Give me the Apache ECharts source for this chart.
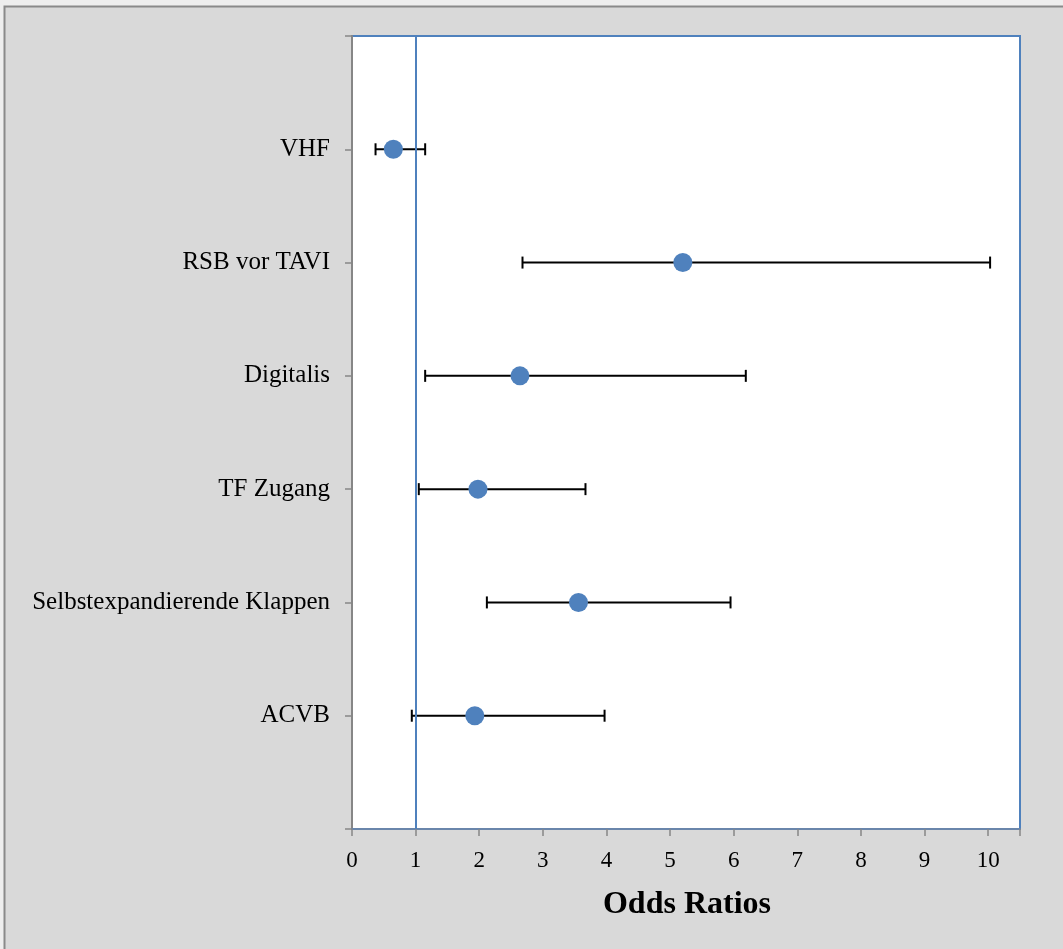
<!DOCTYPE html>
<html>
<head>
<meta charset="utf-8">
<script src="https://cdn.jsdelivr.net/npm/echarts@6/dist/echarts.min.js"></script>
<style>
html,body{margin:0;padding:0;background:#eeeeee;}
#chart{width:1063px;height:949px;}
</style>
</head>
<body>
<div id="chart"></div>
<script>
const categories = ['VHF', 'RSB vor TAVI', 'Digitalis', 'TF Zugang', 'Selbstexpandierende Klappen', 'ACVB'];
const oddsRatios = [0.65, 5.20, 2.64, 1.98, 3.56, 1.93];
const ciLower = [0.37, 2.68, 1.15, 1.05, 2.12, 0.94];
const ciUpper = [1.15, 10.03, 6.19, 3.67, 5.95, 3.97];
const xTicks = [0, 1, 2, 3, 4, 5, 6, 7, 8, 9, 10];
const referenceLine = 1;

const n = categories.length;
// category i sits at y = n - i (VHF top)
const yPos = categories.map((c, i) => n - i);
const pointData = oddsRatios.map((v, i) => [v, yPos[i]]);
const barData = categories.map((c, i) => [yPos[i], ciLower[i], ciUpper[i]]);

const chart = echarts.init(document.getElementById('chart'), null, {renderer: 'canvas'});
const font = '"Liberation Serif", "DejaVu Serif", serif';

chart.setOption({
  backgroundColor: '#eeeeee',
  animation: false,
  graphic: [{
    type: 'rect', z: -10,
    shape: {x: 4.5, y: 6.5, width: 1070, height: 960},
    style: {fill: '#d9d9d9', stroke: '#8a8a8a', lineWidth: 2}
  }],
  title: {
    text: 'Odds Ratios',
    left: 682, top: 884, textAlign: 'center',
    textStyle: {fontFamily: font, fontSize: 32, fontWeight: 'bold', color: '#000'}
  },
  grid: {
    left: 352, top: 36, right: 43, bottom: 120,
    show: true, backgroundColor: '#ffffff', borderColor: '#4f81bd', borderWidth: 2
  },
  xAxis: {
    type: 'value', min: 0, max: 10.5, interval: 1,
    axisLine: {show: true, lineStyle: {color: '#6a86ab', width: 2}},
    axisTick: {show: true, length: 7, lineStyle: {color: '#868686', width: 1.5}},
    axisLabel: {
      fontFamily: font, fontSize: 23, color: '#000', margin: 20,
      formatter: v => xTicks.includes(v) ? String(v) : ''
    },
    splitLine: {show: false}
  },
  yAxis: {
    type: 'value', min: 0, max: n + 1, interval: 1,
    axisLine: {show: true, lineStyle: {color: '#868686', width: 2}},
    axisTick: {show: true, length: 7, lineStyle: {color: '#868686', width: 1.5}},
    axisLabel: {
      fontFamily: font, fontSize: 25, color: '#000', margin: 22,
      formatter: v => { const i = yPos.indexOf(v); return i >= 0 ? categories[i] : ''; }
    },
    splitLine: {show: false}
  },
  series: [
    {
      type: 'line', data: [], silent: true,
      markLine: {
        symbol: 'none', silent: true, label: {show: false},
        lineStyle: {color: '#4f81bd', width: 2, type: 'solid'},
        data: [{xAxis: referenceLine}]
      }
    },
    {
      type: 'custom',
      data: barData,
      z: 3,
      renderItem: function (params, api) {
        const y = api.value(0);
        const p1 = api.coord([api.value(1), y]);
        const p2 = api.coord([api.value(2), y]);
        const cap = 6;
        const style = {stroke: '#000', lineWidth: 2};
        return {
          type: 'group',
          children: [
            {type: 'line', shape: {x1: p1[0], y1: p1[1], x2: p2[0], y2: p2[1]}, style: style},
            {type: 'line', shape: {x1: p1[0], y1: p1[1] - cap, x2: p1[0], y2: p1[1] + cap}, style: style},
            {type: 'line', shape: {x1: p2[0], y1: p2[1] - cap, x2: p2[0], y2: p2[1] + cap}, style: style}
          ]
        };
      }
    },
    {
      type: 'scatter',
      data: pointData,
      symbol: 'circle',
      symbolSize: 19,
      z: 5,
      itemStyle: {color: '#4f81bd', opacity: 1}
    }
  ]
});
</script>
</body>
</html>
